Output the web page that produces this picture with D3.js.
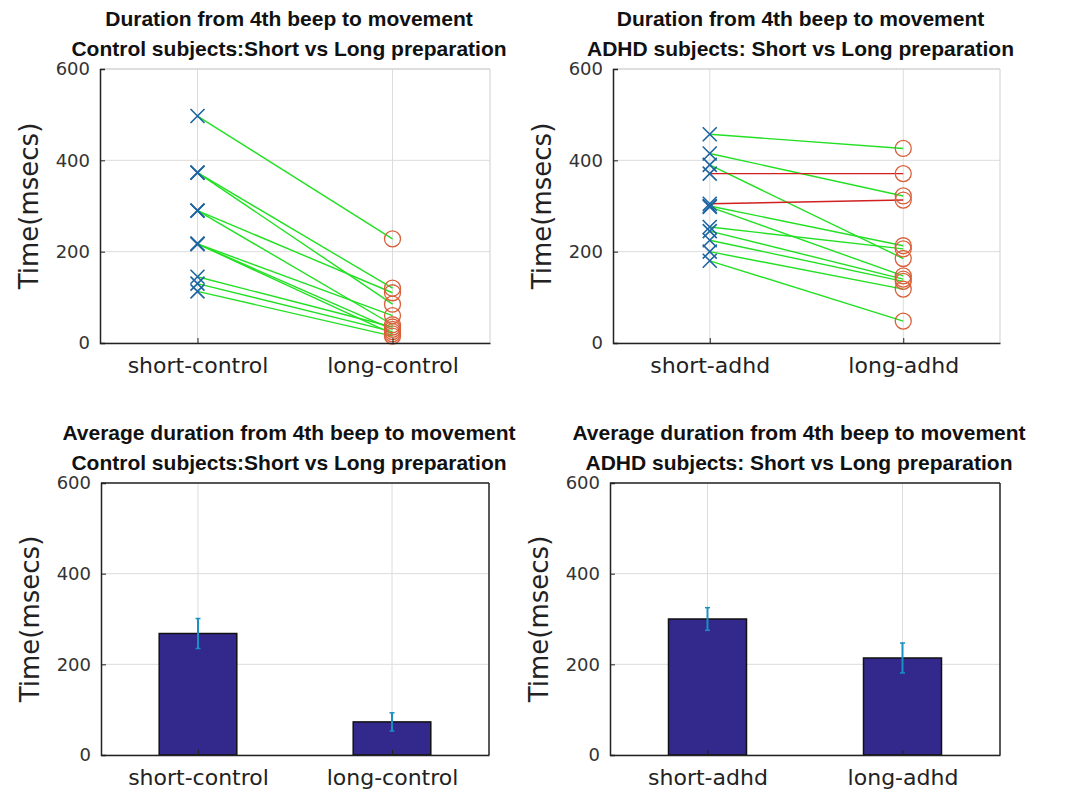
<!DOCTYPE html>
<html><head><meta charset="utf-8">
<script src="https://cdn.jsdelivr.net/npm/d3@7"></script>
<style>body{margin:0;background:#fff}svg{display:block}</style>
</head><body>
<svg id="c" width="1065" height="798"></svg>
<script>
// ---- data ----
const yTicks = [0, 200, 400, 600];
const controlCats = ["short-control", "long-control"];
const adhdCats = ["short-adhd", "long-adhd"];
const controlShort = [497, 373, 373, 290, 290, 217, 217, 217, 145, 130, 113];
const controlLong  = [228, 120, 85, 110, 40, 60, 30, 20, 35, 25, 15];
const adhdShort = [457, 415, 390, 371, 305, 300, 298, 254, 245, 225, 200, 180];
const adhdLong  = [426, 322, 185, 371, 313, 213, 147, 206, 140, 135, 118, 48];
const controlMeans = [268, 73];
const controlErr = [33, 20];
const adhdMeans = [300, 214];
const adhdErr = [25, 33];
const titles = {
  tl: ["Duration from 4th beep to movement", "Control subjects:Short vs Long preparation"],
  tr: ["Duration from 4th beep to movement", "ADHD subjects: Short vs Long preparation"],
  bl: ["Average duration from 4th beep to movement", "Control subjects:Short vs Long preparation"],
  br: ["Average duration from 4th beep to movement", "ADHD subjects: Short vs Long preparation"]
};
const yLabel = "Time(msecs)";

const svg = d3.select("#c");

function panel(o) {
  const g = svg.append("g");
  const x = d3.scalePoint().domain(o.cats).range([o.x0, o.x1]).padding(0.5);
  const y = d3.scaleLinear().domain([0, 600]).range([o.y1, o.y0]);
  // grid
  g.selectAll(".gy").data(yTicks).enter().append("line")
    .attr("x1", o.x0).attr("x2", o.x1).attr("y1", d => y(d)).attr("y2", d => y(d))
    .attr("stroke", "#dcdcdc").attr("stroke-width", 1);
  g.selectAll(".gx").data(o.cats).enter().append("line")
    .attr("x1", d => x(d)).attr("x2", d => x(d)).attr("y1", o.y0).attr("y2", o.y1)
    .attr("stroke", "#dcdcdc").attr("stroke-width", 1);
  // box top/right
  const boxCol = o.darkBox ? "#222" : "#cfcfcf";
  g.append("line").attr("x1", o.x0).attr("x2", o.x1).attr("y1", o.y0).attr("y2", o.y0).attr("stroke", boxCol).attr("stroke-width", o.darkBox ? 1.5 : 1);
  g.append("line").attr("x1", o.x1).attr("x2", o.x1).attr("y1", o.y0).attr("y2", o.y1).attr("stroke", boxCol).attr("stroke-width", o.darkBox ? 1.5 : 1);

  o.draw(g, x, y);

  // axes
  const ya = g.append("g").attr("transform", `translate(${o.x0},0)`)
    .call(d3.axisLeft(y).tickValues(yTicks).tickSize(-5).tickPadding(10).tickFormat(d3.format("d")));
  ya.select(".domain").attr("stroke", "#222").attr("stroke-width", 1.5);
  ya.selectAll(".tick line").attr("stroke", "#222");
  ya.selectAll("text").attr("font-family", "DejaVu Sans").attr("font-size", 18).attr("fill", "#333");
  const xa = g.append("g").attr("transform", `translate(0,${o.y1})`)
    .call(d3.axisBottom(x).tickSize(-5).tickPadding(14).tickSizeOuter(0));
  xa.select(".domain").attr("stroke", "#222").attr("stroke-width", 1.5);
  xa.selectAll(".tick line").attr("stroke", "#222");
  xa.selectAll("text").attr("font-family", "DejaVu Sans").attr("font-size", 22).attr("fill", "#222");
  // ylabel
  g.append("text").attr("transform", `translate(${o.x0 - 62},${(o.y0 + o.y1) / 2}) rotate(-90)`)
    .attr("text-anchor", "middle").attr("font-family", "DejaVu Sans").attr("font-size", 26).attr("fill", "#222")
    .text(yLabel);
  // titles
  const cx = (o.x0 + o.x1) / 2 - 6;
  o.title.forEach((t, i) => {
    g.append("text").attr("x", cx).attr("y", o.ty + i * 30).attr("text-anchor", "middle")
      .attr("font-family", "Liberation Sans").attr("font-weight", "bold").attr("font-size", 21)
      .attr("fill", "#111").text(t);
  });
}

function pairs(shortV, longV, cats) {
  return function (g, x, y) {
    shortV.forEach((s, i) => {
      const l = longV[i];
      g.append("line").attr("x1", x(cats[0])).attr("y1", y(s)).attr("x2", x(cats[1])).attr("y2", y(l))
        .attr("stroke", l >= s ? "#d02020" : "#22e022").attr("stroke-width", 1.4);
    });
    const r = 7;
    shortV.forEach(s => {
      const cx = x(cats[0]), cy = y(s);
      g.append("path").attr("d", `M${cx - r},${cy - r}L${cx + r},${cy + r}M${cx - r},${cy + r}L${cx + r},${cy - r}`)
        .attr("stroke", "#1d65a0").attr("stroke-width", 1.6).attr("fill", "none");
    });
    longV.forEach(l => {
      g.append("circle").attr("cx", x(cats[1])).attr("cy", y(l)).attr("r", 8)
        .attr("fill", "none").attr("stroke", "#d9603a").attr("stroke-width", 1.3);
    });
  };
}

function bars(means, errs, cats) {
  return function (g, x, y) {
    const step = x.step();
    const bw = step * 0.4;
    means.forEach((m, i) => {
      g.append("rect").attr("x", x(cats[i]) - bw / 2).attr("y", y(m)).attr("width", bw).attr("height", y(0) - y(m))
        .attr("fill", "#33298c").attr("stroke", "#111").attr("stroke-width", 1.5);
    });
    means.forEach((m, i) => {
      const cx = x(cats[i]);
      g.append("line").attr("x1", cx).attr("x2", cx).attr("y1", y(m - errs[i])).attr("y2", y(m + errs[i]))
        .attr("stroke", "#1a8fc2").attr("stroke-width", 2);
      [m - errs[i], m + errs[i]].forEach(v => {
        g.append("line").attr("x1", cx - 2.5).attr("x2", cx + 2.5).attr("y1", y(v)).attr("y2", y(v))
          .attr("stroke", "#1a8fc2").attr("stroke-width", 1.5);
      });
    });
  };
}

panel({x0: 100, x1: 490, y0: 69, y1: 343, cats: controlCats, title: titles.tl, ty: 26, darkBox: false,
       draw: pairs(controlShort, controlLong, controlCats)});
panel({x0: 613, x1: 1000, y0: 69, y1: 343, cats: adhdCats, title: titles.tr, ty: 26, darkBox: false,
       draw: pairs(adhdShort, adhdLong, adhdCats)});
panel({x0: 101, x1: 489, y0: 483, y1: 755, cats: controlCats, title: titles.bl, ty: 440, darkBox: true,
       draw: bars(controlMeans, controlErr, controlCats)});
panel({x0: 610, x1: 1000, y0: 483, y1: 755, cats: adhdCats, title: titles.br, ty: 440, darkBox: true,
       draw: bars(adhdMeans, adhdErr, adhdCats)});
</script>
</body></html>
